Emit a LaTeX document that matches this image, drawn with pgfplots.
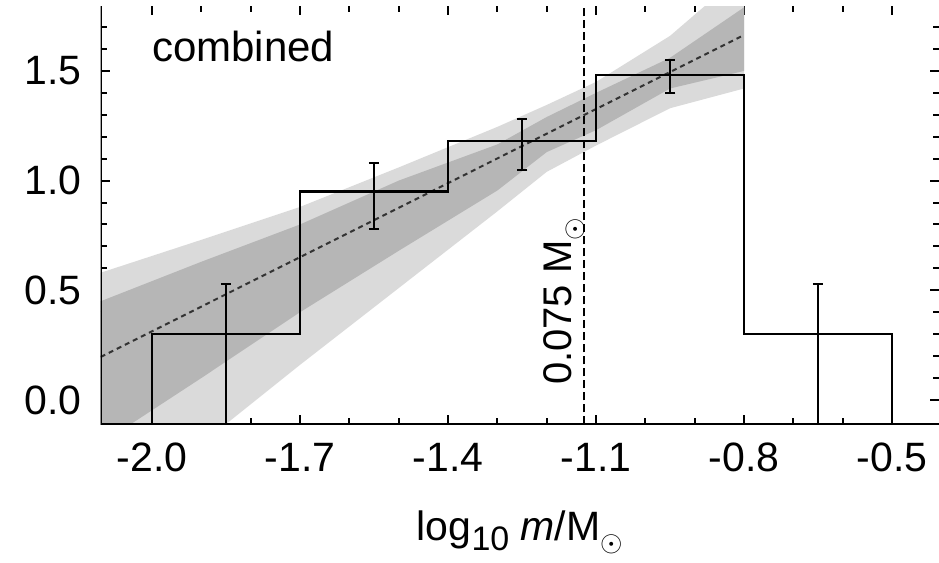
\documentclass[border=0pt]{standalone}
\usepackage{fontspec}
\setmainfont{Liberation Sans}
\usepackage{pgfplots}
\pgfplotsset{compat=1.18}
\definecolor{bandlight}{RGB}{218,218,218}
\definecolor{banddark}{RGB}{182,182,182}

\begin{document}
\begin{tikzpicture}
\useasboundingbox (-50.35pt,-69.35pt) rectangle (419.15pt,212.15pt);
\begin{axis}[
  scale only axis, width=419.15pt, height=209.15pt,
  at={(0,0)}, anchor=south west,
  xmin=-2.104, xmax=-0.405, ymin=-0.111, ymax=1.796,
  xtick={-2.0,-1.7,-1.4,-1.1,-0.8,-0.5},
  ytick={0,0.5,1.0,1.5},
  minor xtick={-1.9,-1.8,-1.6,-1.5,-1.3,-1.2,-1.0,-0.9,-0.7,-0.6},
  minor ytick={0.1,0.2,0.3,0.4,0.6,0.7,0.8,0.9,1.1,1.2,1.3,1.4,1.6,1.7},
  major tick length=4.5pt, minor tick length=3pt,
  tick style={black, line width=1pt},
  axis line style={draw=none},
  ticklabel style={font=\fontsize{20.5}{24}\selectfont,
    /pgf/number format/fixed, /pgf/number format/fixed zerofill,
    /pgf/number format/precision=1, /pgf/number format/assume math mode=true},
  xticklabel style={yshift=-6pt},
  yticklabel style={xshift=-6pt},
  xlabel={log\raisebox{-0.45ex}{\fontsize{17}{20}\selectfont 10} \textit{m}/M\raisebox{-0.5ex}{\fontsize{15}{18}\selectfont$\odot$}},
  xlabel style={font=\fontsize{20.5}{24}\selectfont, at={(axis description cs:0.5,0)}, anchor=base, yshift=-58pt},
]
% 2-sigma band
\addplot[fill=bandlight, draw=none] coordinates {
  (-2.104,0.58) (-1.9,0.73) (-1.7,0.88) (-1.5,1.06) (-1.3,1.245) (-1.2,1.345) (-1.1,1.45) (-0.95,1.66) (-0.8,1.95)
  (-0.8,1.42) (-0.95,1.33) (-1.1,1.16) (-1.2,1.04) (-1.3,0.86) (-1.5,0.51) (-1.7,0.16) (-1.9,-0.20) (-2.104,-0.57)
} -- cycle;
% 1-sigma band
\addplot[fill=banddark, draw=none] coordinates {
  (-2.104,0.45) (-1.9,0.63) (-1.7,0.80) (-1.5,1.00) (-1.3,1.165) (-1.2,1.29) (-1.1,1.40) (-0.95,1.56) (-0.8,1.79)
  (-0.8,1.50) (-0.95,1.42) (-1.1,1.23) (-1.2,1.13) (-1.3,0.955) (-1.5,0.68) (-1.7,0.40) (-1.9,0.10) (-2.104,-0.20)
} -- cycle;
% fit
\addplot[black!80, line width=1pt, dash pattern=on 2.5pt off 2pt] coordinates {(-2.104,0.196) (-0.8,1.664)};
% histogram
\addplot[black, line width=1.1pt] coordinates {
  (-2.0,-0.111) (-2.0,0.3) (-1.7,0.3) (-1.7,0.95) (-1.4,0.95) (-1.4,1.18) (-1.1,1.18)
  (-1.1,1.48) (-0.8,1.48) (-0.8,0.3) (-0.5,0.3) (-0.5,-0.111)
};
% error bars
\addplot[draw=none, mark=none, error bars/.cd, y dir=both, y explicit, error mark=|,
  error bar style={draw=black, line width=1pt}, error mark options={draw=black, line width=1pt, mark size=2.6pt}]
  coordinates {
  (-1.85,0.30) += (0,0.23) -= (0,0.411)
  (-1.55,0.95) += (0,0.13) -= (0,0.17)
  (-1.25,1.18) += (0,0.10) -= (0,0.13)
  (-0.95,1.48) += (0,0.07) -= (0,0.08)
  (-0.65,0.30) += (0,0.23) -= (0,0.411)
};
% 0.075 Msun line
\addplot[black, line width=1pt, dash pattern=on 4pt off 2pt] coordinates {(-1.125,-0.111) (-1.125,1.796)};
\node[rotate=90, anchor=base, font=\fontsize{20}{24}\selectfont] at (axis cs:-1.149,0.449) {0.075 M\raisebox{-0.5ex}{\fontsize{15}{18}\selectfont$\odot$}};
\node[anchor=base west, font=\fontsize{21}{24}\selectfont] at (axis cs:-2.014,1.541) {combined};
\draw[black, line width=1.5pt] (rel axis cs:0,1) -- (rel axis cs:0,0) -- (rel axis cs:1,0);
\end{axis}
\end{tikzpicture}
\end{document}
